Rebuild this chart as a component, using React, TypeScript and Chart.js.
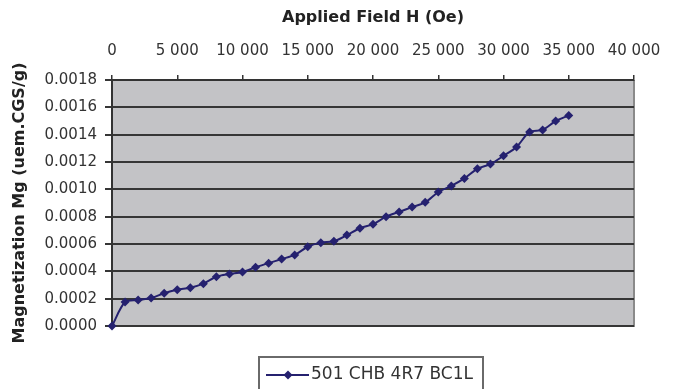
import React, { useEffect, useRef } from "react";
import { Chart, registerables } from "chart.js";

Chart.register(...registerables);

const fieldH: number[] = [
  0, 1000, 2000, 3000, 4000, 5000, 6000, 7000, 8000, 9000, 10000, 11000,
  12000, 13000, 14000, 15000, 16000, 17000, 18000, 19000, 20000, 21000, 22000,
  23000, 24000, 25000, 26000, 27000, 28000, 29000, 30000, 31000, 32000, 33000,
  34000, 35000,
];
const magnetization: number[] = [
  0, 0.000175, 0.00019, 0.000205, 0.00024, 0.000265, 0.00028, 0.00031,
  0.00036, 0.00038, 0.000395, 0.00043, 0.00046, 0.00049, 0.00052, 0.00058,
  0.00061, 0.00062, 0.000665, 0.000715, 0.000745, 0.0008, 0.000835, 0.00087,
  0.000905, 0.00098, 0.001025, 0.00108, 0.00115, 0.001185, 0.001245, 0.00131,
  0.00142, 0.001435, 0.0015, 0.00154,
];
const seriesLabel = "501 CHB 4R7 BC1L";
const xTitle = "Applied Field H (Oe)";
const yTitle = "Magnetization Mg (uem.CGS/g)";
const xMin = 0;
const xMax = 40000;
const xStep = 5000;
const yMin = 0;
const yMax = 0.0018;
const yStep = 0.0002;

const SERIES_COLOR = "#25216f";
const FONT = "'DejaVu Sans', sans-serif";

const fmtThousands = (v: number) =>
  String(Math.round(v)).replace(/\B(?=(\d{3})+(?!\d))/g, " ");

export default function App() {
  const ref = useRef<HTMLCanvasElement | null>(null);

  useEffect(() => {
    if (!ref.current) return;

    const bgPlugin = {
      id: "plotBg",
      beforeDraw(chart: any) {
        const { ctx, chartArea: a } = chart;
        ctx.save();
        ctx.fillStyle = "#c3c3c6";
        ctx.fillRect(a.left, a.top, a.right - a.left, a.bottom - a.top);
        ctx.strokeStyle = "#8a8a8a";
        ctx.lineWidth = 2;
        ctx.beginPath();
        ctx.moveTo(a.right, a.top);
        ctx.lineTo(a.right, a.bottom);
        ctx.lineTo(a.left, a.bottom);
        ctx.stroke();
        ctx.restore();
      },
    };

    const legendPlugin = {
      id: "boxLegend",
      afterDraw(chart: any) {
        const { ctx, chartArea: a } = chart;
        const ds = chart.data.datasets[0];
        const w = 224;
        const h = 34;
        const left = Math.round((a.left + a.right) / 2 - 2 - w / 2);
        const top = a.bottom + 31;
        const cy = top + 18;
        ctx.save();
        ctx.fillStyle = "#ffffff";
        ctx.fillRect(left, top, w, h);
        ctx.strokeStyle = "#6a6a6a";
        ctx.lineWidth = 2;
        ctx.strokeRect(left, top, w, h);
        ctx.strokeStyle = ds.borderColor;
        ctx.lineWidth = 2;
        ctx.beginPath();
        ctx.moveTo(left + 7, cy);
        ctx.lineTo(left + 50, cy);
        ctx.stroke();
        const cx = left + 29;
        const r = 4.5;
        ctx.fillStyle = ds.backgroundColor;
        ctx.beginPath();
        ctx.moveTo(cx, cy - r);
        ctx.lineTo(cx + r, cy);
        ctx.lineTo(cx, cy + r);
        ctx.lineTo(cx - r, cy);
        ctx.closePath();
        ctx.fill();
        ctx.fillStyle = "#333333";
        ctx.font = `17px ${FONT}`;
        ctx.textAlign = "left";
        ctx.textBaseline = "middle";
        ctx.fillText(ds.label, left + 52, cy);
        ctx.restore();
      },
    };

    const chart = new Chart(ref.current, {
      type: "line",
      data: {
        datasets: [
          {
            label: seriesLabel,
            data: fieldH.map((x, i) => ({ x, y: magnetization[i] })),
            borderColor: SERIES_COLOR,
            backgroundColor: SERIES_COLOR,
            borderWidth: 2,
            pointStyle: "rectRot",
            pointRadius: 4.5,
            pointBorderWidth: 0,
            tension: 0.3,
            clip: false,
          },
        ],
      },
      options: {
        animation: false,
        responsive: false,
        layout: { padding: { left: 4, top: 4, right: 47, bottom: 63 } },
        plugins: {
          legend: { display: false },
          tooltip: { enabled: false },
        },
        scales: {
          x: {
            type: "linear",
            position: "top",
            min: xMin,
            max: xMax,
            ticks: {
              stepSize: xStep,
              color: "#333333",
              font: { family: FONT, size: 15 },
              padding: 15,
              maxRotation: 0,
              autoSkip: false,
              callback: (v: any) => fmtThousands(Number(v)),
            },
            grid: {
              drawOnChartArea: false,
              drawTicks: true,
              tickLength: 5,
              color: "#333333",
              lineWidth: 1.5,
            },
            border: { display: true, color: "#333333", width: 2 },
            title: {
              display: true,
              text: xTitle,
              color: "#222222",
              font: { family: FONT, size: 16, weight: "bold" },
              padding: { top: 4, bottom: 0 },
            },
            afterFit(scale: any) {
              scale.height = 76;
            },
          },
          y: {
            type: "linear",
            position: "left",
            min: yMin,
            max: yMax,
            ticks: {
              stepSize: yStep,
              color: "#333333",
              font: { family: FONT, size: 15 },
              padding: 8,
              autoSkip: false,
              callback: (v: any) => Number(v).toFixed(4),
            },
            grid: {
              drawOnChartArea: true,
              drawTicks: true,
              tickLength: 7,
              color: "#363636",
              lineWidth: 2,
            },
            border: { display: true, color: "#333333", width: 2 },
            title: {
              display: true,
              text: yTitle,
              color: "#222222",
              font: { family: FONT, size: 16, weight: "bold" },
              padding: { top: 6, bottom: 0 },
            },
            afterFit(scale: any) {
              scale.width = 108;
            },
          },
        },
      },
      plugins: [bgPlugin, legendPlugin],
    });

    return () => chart.destroy();
  }, []);

  return (
    <div style={{ position: "absolute", left: 0, top: 0, width: 681, height: 389, background: "#ffffff" }}>
      <canvas ref={ref} width={681} height={389} />
    </div>
  );
}
